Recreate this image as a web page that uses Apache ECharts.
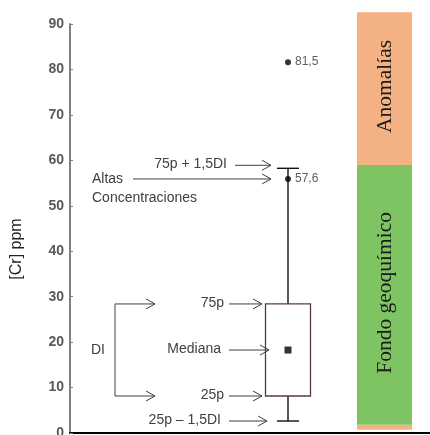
<!DOCTYPE html>
<html>
<head>
<meta charset="utf-8">
<script src="https://cdn.jsdelivr.net/npm/echarts@6/dist/echarts.min.js"></script>
<style>
html,body{margin:0;padding:0;background:#fff;}
#chart{width:430px;height:435px;}
</style>
</head>
<body>
<div id="chart"></div>
<script>
// ---------- DATA ----------
const yMin = 0, yMax = 90, yInterval = 10;
// [25p - 1,5DI, 25p, mediana, 75p, 75p + 1,5DI]
const boxStats = [2.64, 8.14, 18.26, 28.4, 58.25];
const boxLabels = ['25p \u2013 1,5DI', '25p', 'Mediana', '75p', '75p + 1,5DI'];
const outlierValues = [55.9, 81.6];
const outlierLabels = ['57,6', '81,5'];
const zoneNames = ['', 'Fondo geoqu\u00edmico', 'Anomal\u00edas'];
const zoneLow = [0.7, 1.8, 59.0];
const zoneHigh = [1.8, 59.0, 92.6];
const highLabelLines = ['Altas', 'Concentraciones'];
const diLabel = 'DI';
const yAxisTitle = '[Cr] ppm';

// ---------- LAYOUT / STYLE ----------
const L = {
  boxX: 218, boxHalf: 22.5, capHalf: 11,
  zoneX0: 287, zoneX1: 342,
  annot: [ // textRight, arrowFrom, arrowTo, dyPx
    [151, 159, 197, 0],
    [154, 159, 192, 0],
    [151, 159, 199, 0],
    [154, 159, 192, 0],
    [157, 165, 201, -3]
  ],
  altas: { textLeft: 22, arrowFrom: 63, arrowTo: 201, line2Dy: 19 },
  di: { x: 45, arrowTo: 85, textX: 28 }
};
const zoneColors = ['#F4B183', '#7EC462', '#F4B183'];
const annotColor = '#404040';
const annotFont = '14px "Liberation Sans", Arial, sans-serif';

function arrow(p0x, p1x, y) {
  return [
    { type: 'line', shape: { x1: p0x, y1: y, x2: p1x, y2: y }, style: { stroke: annotColor, lineWidth: 1 } },
    { type: 'polyline', shape: { points: [[p1x - 9, y - 5], [p1x, y], [p1x - 9, y + 5]] }, style: { stroke: annotColor, lineWidth: 1, fill: null } }
  ];
}
function txt(x, y, text, align) {
  return { type: 'text', x: x, y: y, style: { text: text, font: annotFont, fill: annotColor, align: align, verticalAlign: 'middle' } };
}

const chart = echarts.init(document.getElementById('chart'), null, { renderer: 'canvas' });

const option = {
  animation: false,
  backgroundColor: '#fff',
  grid: { left: 70, right: 0, top: 24, bottom: 2, containLabel: false, outerBoundsMode: 'none' },
  xAxis: {
    type: 'value', min: 0, max: 360,
    axisLine: { show: true, lineStyle: { color: '#000', width: 2 } },
    axisTick: { show: false }, axisLabel: { show: false }, splitLine: { show: false }
  },
  yAxis: {
    type: 'value', min: yMin, max: yMax, interval: yInterval,
    axisLine: { show: true, lineStyle: { color: '#7f7f7f', width: 2 } },
    axisTick: { show: true, inside: true, length: 3, lineStyle: { color: '#7f7f7f', width: 1 } },
    axisLabel: { fontSize: 14, fontWeight: 'bold', color: '#595959', margin: 6, fontFamily: 'Liberation Sans, Arial, sans-serif' },
    splitLine: { show: false }
  },
  graphic: [{
    type: 'text', x: 17, y: 249, rotation: Math.PI / 2,
    style: { text: yAxisTitle, font: '16px "Liberation Sans", Arial, sans-serif', fill: '#262626', align: 'center', verticalAlign: 'middle' }
  }],
  series: [
    {
      type: 'custom', name: 'zones', clip: false, z: 1,
      data: zoneLow.map((v, i) => [zoneLow[i], zoneHigh[i], i]),
      renderItem: function (params, api) {
        const i = api.value(2);
        const pTop = api.coord([L.zoneX0, api.value(1)]);
        const pBot = api.coord([L.zoneX1, api.value(0)]);
        const children = [{
          type: 'rect',
          shape: { x: pTop[0], y: pTop[1], width: pBot[0] - pTop[0], height: pBot[1] - pTop[1] },
          style: { fill: zoneColors[i] }
        }];
        if (zoneNames[i]) {
          children.push({
            type: 'text', x: (pTop[0] + pBot[0]) / 2 + 1, y: (pTop[1] + pBot[1]) / 2 - 2, rotation: Math.PI / 2,
            style: { text: zoneNames[i], font: '21.5px "Liberation Serif", "Times New Roman", serif', fill: '#1a1a1a', align: 'center', verticalAlign: 'middle' }
          });
        }
        return { type: 'group', children: children };
      }
    },
    {
      type: 'custom', name: 'box', z: 3, clip: false,
      data: [boxStats],
      renderItem: function (params, api) {
        const v = boxStats;
        const pLow = api.coord([L.boxX, v[0]]);
        const pQ1 = api.coord([L.boxX, v[1]]);
        const pQ3 = api.coord([L.boxX, v[3]]);
        const pHigh = api.coord([L.boxX, v[4]]);
        const xl = api.coord([L.boxX - L.boxHalf, v[3]])[0];
        const xr = api.coord([L.boxX + L.boxHalf, v[3]])[0];
        const cl = api.coord([L.boxX - L.capHalf, v[3]])[0];
        const cr = api.coord([L.boxX + L.capHalf, v[3]])[0];
        const ln = (x1, y1, x2, y2) => ({ type: 'line', shape: { x1, y1, x2, y2 }, style: { stroke: '#000', lineWidth: 1.3 } });
        return {
          type: 'group', children: [
            ln(pHigh[0], pHigh[1], pQ3[0], pQ3[1]),
            ln(pLow[0], pLow[1], pQ1[0], pQ1[1]),
            ln(cl, pHigh[1], cr, pHigh[1]),
            ln(cl, pLow[1], cr, pLow[1]),
            { type: 'rect', shape: { x: xl, y: pQ3[1], width: xr - xl, height: pQ1[1] - pQ3[1] }, style: { fill: '#fff', stroke: '#5a3c3c', lineWidth: 1.3 } }
          ]
        };
      }
    },
    {
      type: 'scatter', name: 'mediana', z: 4, symbol: 'rect', symbolSize: 7,
      itemStyle: { color: '#000' },
      data: [[L.boxX, boxStats[2]]]
    },
    {
      type: 'scatter', name: 'outliers', z: 4, symbol: 'circle', symbolSize: 6,
      itemStyle: { color: '#000' },
      label: {
        show: true, position: 'right', distance: 4,
        formatter: p => outlierLabels[p.dataIndex],
        fontSize: 12, color: '#333', fontFamily: 'Liberation Sans, Arial, sans-serif'
      },
      data: outlierValues.map(v => [L.boxX, v])
    },
    {
      type: 'custom', name: 'annotations', z: 5, clip: false,
      data: [0],
      renderItem: function (params, api) {
        const ch = [];
        boxLabels.forEach((t, i) => {
          const a = L.annot[i];
          const y = api.coord([0, boxStats[i]])[1] + a[3];
          const xt = api.coord([a[0], 0])[0];
          const x0 = api.coord([a[1], 0])[0];
          const x1 = api.coord([a[2], 0])[0];
          ch.push(txt(xt, y - 1, t, 'right'));
          arrow(x0, x1, y).forEach(e => ch.push(e));
        });
        const ya = api.coord([0, outlierValues[0]])[1];
        const xa = api.coord([L.altas.textLeft, 0])[0];
        ch.push(txt(xa, ya, highLabelLines[0], 'left'));
        ch.push(txt(xa, ya + L.altas.line2Dy, highLabelLines[1], 'left'));
        arrow(api.coord([L.altas.arrowFrom, 0])[0], api.coord([L.altas.arrowTo, 0])[0], ya).forEach(e => ch.push(e));
        const yq3 = api.coord([0, boxStats[3]])[1];
        const yq1 = api.coord([0, boxStats[1]])[1];
        const ym = api.coord([0, boxStats[2]])[1];
        const xb = api.coord([L.di.x, 0])[0];
        const xbt = api.coord([L.di.arrowTo, 0])[0];
        ch.push({ type: 'line', shape: { x1: xb, y1: yq3, x2: xb, y2: yq1 }, style: { stroke: annotColor, lineWidth: 1 } });
        arrow(xb, xbt, yq3).forEach(e => ch.push(e));
        arrow(xb, xbt, yq1).forEach(e => ch.push(e));
        ch.push(txt(api.coord([L.di.textX, 0])[0], ym, diLabel, 'center'));
        return { type: 'group', children: ch };
      }
    }
  ]
};
chart.setOption(option);
</script>
</body>
</html>
